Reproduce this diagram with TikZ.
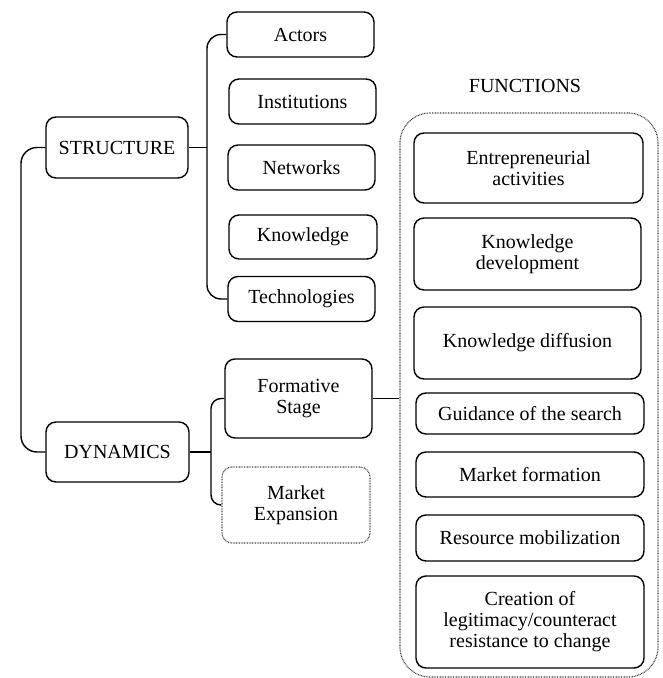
\documentclass[tikz,border=0pt]{standalone}
\usepackage{fontspec}
\setmainfont{Liberation Serif}
\begin{document}
\begin{tikzpicture}[x=1pt,y=-1pt,
  every node/.style={font=\fontsize{20}{21}\selectfont, align=center, inner sep=0pt},
  box/.style={draw, line width=1.4pt, rounded corners=10pt},
  dotbox/.style={draw=black!70, line width=1.2pt, dash pattern=on 0.8pt off 0.8pt, rounded corners=10pt},
  conn/.style={line width=1.4pt},
]
\useasboundingbox (0,0) rectangle (662,678);

% left column
\node[box, minimum width=142pt, minimum height=61pt] (str) at (117,147.5) {STRUCTURE};
\node[box, minimum width=143pt, minimum height=60pt] (dyn) at (117.5,452) {DYNAMICS};

% structure children
\node[box, minimum width=147pt, minimum height=45pt] (act)  at (300.5,34.5) {Actors};
\node[box, minimum width=147pt, minimum height=45pt] (inst) at (302.5,101.5) {Institutions};
\node[box, minimum width=147pt, minimum height=45pt] (net)  at (301.5,167.5) {Networks};
\node[box, minimum width=148pt, minimum height=44pt] (know) at (303,237) {Knowledge};
\node[box, minimum width=147pt, minimum height=45pt] (tech) at (301.5,299) {Technologies};

% dynamics children
\node[box, minimum width=147pt, minimum height=79pt] (form) at (298.5,398.5) {Formative\\Stage};
\node[dotbox, minimum width=148pt, minimum height=76pt] (mkt) at (296,505) {Market\\Expansion};

% functions
\node (ftitle) at (525,86) {FUNCTIONS};
\node[draw=black!75, line width=1.2pt, dash pattern=on 0.8pt off 0.8pt, rounded corners=30pt,
      minimum width=258pt, minimum height=564pt] (cont) at (529,395) {};
\node[box, minimum width=229pt, minimum height=70pt] (f1) at (528.5,168) {Entrepreneurial\\activities};
\node[box, minimum width=227pt, minimum height=72pt] (f2) at (527.5,254) {Knowledge\\development};
\node[box, minimum width=227pt, minimum height=72pt] (f3) at (527.5,343) {Knowledge diffusion};
\node[box, minimum width=228pt, minimum height=41pt] (f4) at (530,413.5) {Guidance of the search};
\node[box, minimum width=228pt, minimum height=45pt] (f5) at (530,474.5) {Market formation};
\node[box, minimum width=228pt, minimum height=46pt] (f6) at (530,538) {Resource mobilization};
\node[box, minimum width=228pt, minimum height=92pt] (f7) at (530,622) {Creation of\\legitimacy/counteract\\resistance to change};

% connectors
\coordinate (lb) at (21,300);
\coordinate (sb) at (207,147.5);
\coordinate (db) at (211,452);
\draw[conn, rounded corners=16pt] (str.west) -| (lb) |- (dyn.west);
\draw[conn] (str.east) -- (sb);
\draw[conn, rounded corners=14pt] (act.west) -| (sb) |- (tech.west);
\draw[conn] (dyn.east) -- (db);
\draw[conn, rounded corners=10pt] (form.west) -| (db) |- (mkt.west);
\draw[conn] (form.east) -- (form.east -| cont.west);
\end{tikzpicture}
\end{document}
